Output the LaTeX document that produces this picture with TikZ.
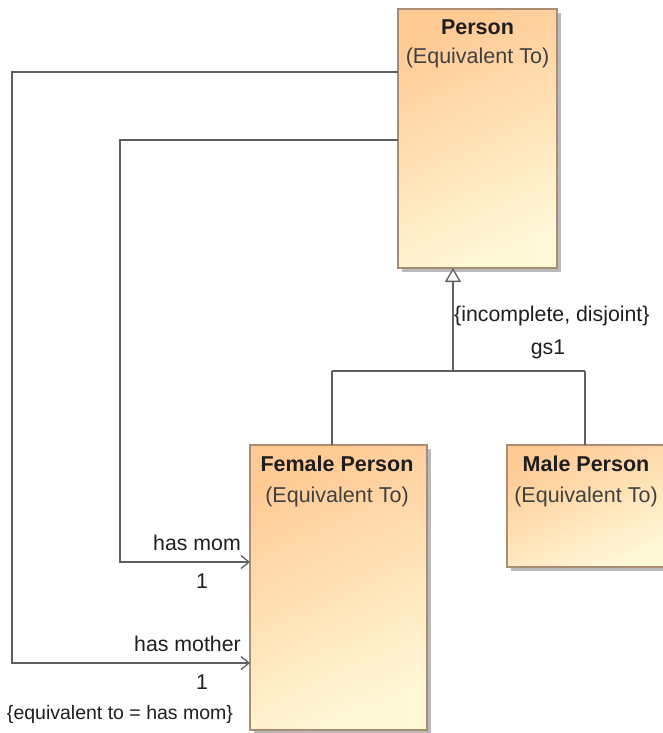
\documentclass[tikz,border=0pt]{standalone}
\usepackage{fontspec}
\setmainfont{Liberation Sans}
\usetikzlibrary{arrows.meta,shadows}
\definecolor{boxtop}{RGB}{255,202,148}
\definecolor{boxbot}{RGB}{255,248,215}
\definecolor{boxline}{RGB}{170,140,115}
\definecolor{wire}{RGB}{95,95,95}
\definecolor{txt}{RGB}{30,30,30}
\begin{document}
\begin{tikzpicture}[x=1pt,y=-1pt,
  umlbox/.style={draw=boxline, line width=1.2pt, shading=axis, top color=boxtop, bottom color=boxbot, shading angle=25,
    drop shadow={shadow xshift=4pt, shadow yshift=-4pt, fill=black!45, opacity=0.6}},
  ttl/.style={font=\fontsize{21.5}{25}\selectfont\bfseries, text=txt, inner sep=0pt},
  sub/.style={font=\fontsize{21.5}{25}\selectfont, text=txt!85, inner sep=0pt},
  lbl/.style={font=\fontsize{21.3}{25}\selectfont, text=txt, inner sep=0pt},
  small/.style={font=\fontsize{19.5}{23}\selectfont, text=txt, inner sep=0pt},
  wireline/.style={draw=wire, line width=1.3pt},
  assoc/.style={wireline, -{Straight Barb[length=8pt,width=13pt,line width=1.3pt]}},
  gen/.style={wireline, -{Triangle[open,length=14pt,width=16pt,fill=white,line width=1.3pt]}}
]
\useasboundingbox (0,0) rectangle (663,733);
\clip (0,0) rectangle (663,733);

\node[umlbox, minimum width=159pt, minimum height=259pt, inner sep=0pt] (person) at (477.5,138.5) {};
\node[umlbox, minimum width=177pt, minimum height=285pt, inner sep=0pt] (female) at (338.5,587.5) {};
\node[umlbox, minimum width=157pt, minimum height=122pt, inner sep=0pt] (male) at (585.5,506) {};

\node[ttl] (pt) at (477.5,27) {Person};
\node[sub] (ps) at (477.5,58) {(Equivalent To)};
\node[ttl] (ft) at (337,464) {Female Person};
\node[sub] (fs) at (337,497) {(Equivalent To)};
\node[ttl] (mt) at (586,464) {Male Person};
\node[sub] (ms) at (586,497) {(Equivalent To)};

% generalization set
\coordinate (gtip) at (453,268);
\coordinate (gjoin) at (453,371);
\coordinate (fj) at (332,371);
\coordinate (mj) at (585,371);
\coordinate (ftop) at (332,445);
\coordinate (mtop) at (585,445);
\draw[wireline] (fj) -- (mj);
\draw[wireline] (fj) -- (ftop);
\draw[wireline] (mj) -- (mtop);
\draw[gen] (gjoin) -- (gtip);
\node[lbl, anchor=west] (gsc) at (454,316) {\{incomplete, disjoint\}};
\node[lbl] (gsn) at (548,349) {gs1};

% associations
\coordinate (p1) at (398,72);
\coordinate (p2) at (398,140);
\coordinate (f1) at (250,663);
\coordinate (f2) at (250,562);
\draw[assoc] (p1) -- (12,72) -- (12,663) -- (f1);
\draw[assoc] (p2) -- (120,140) -- (120,562) -- (f2);

\node[lbl, anchor=east] (hm) at (241,543) {has mom};
\node[lbl] (hm1) at (202,581) {1};
\node[lbl, anchor=east] (hmo) at (241,644) {has mother};
\node[lbl] (hmo1) at (202,682) {1};
\node[small] (eq) at (120,714) {\{equivalent to = has mom\}};
\end{tikzpicture}
\end{document}
